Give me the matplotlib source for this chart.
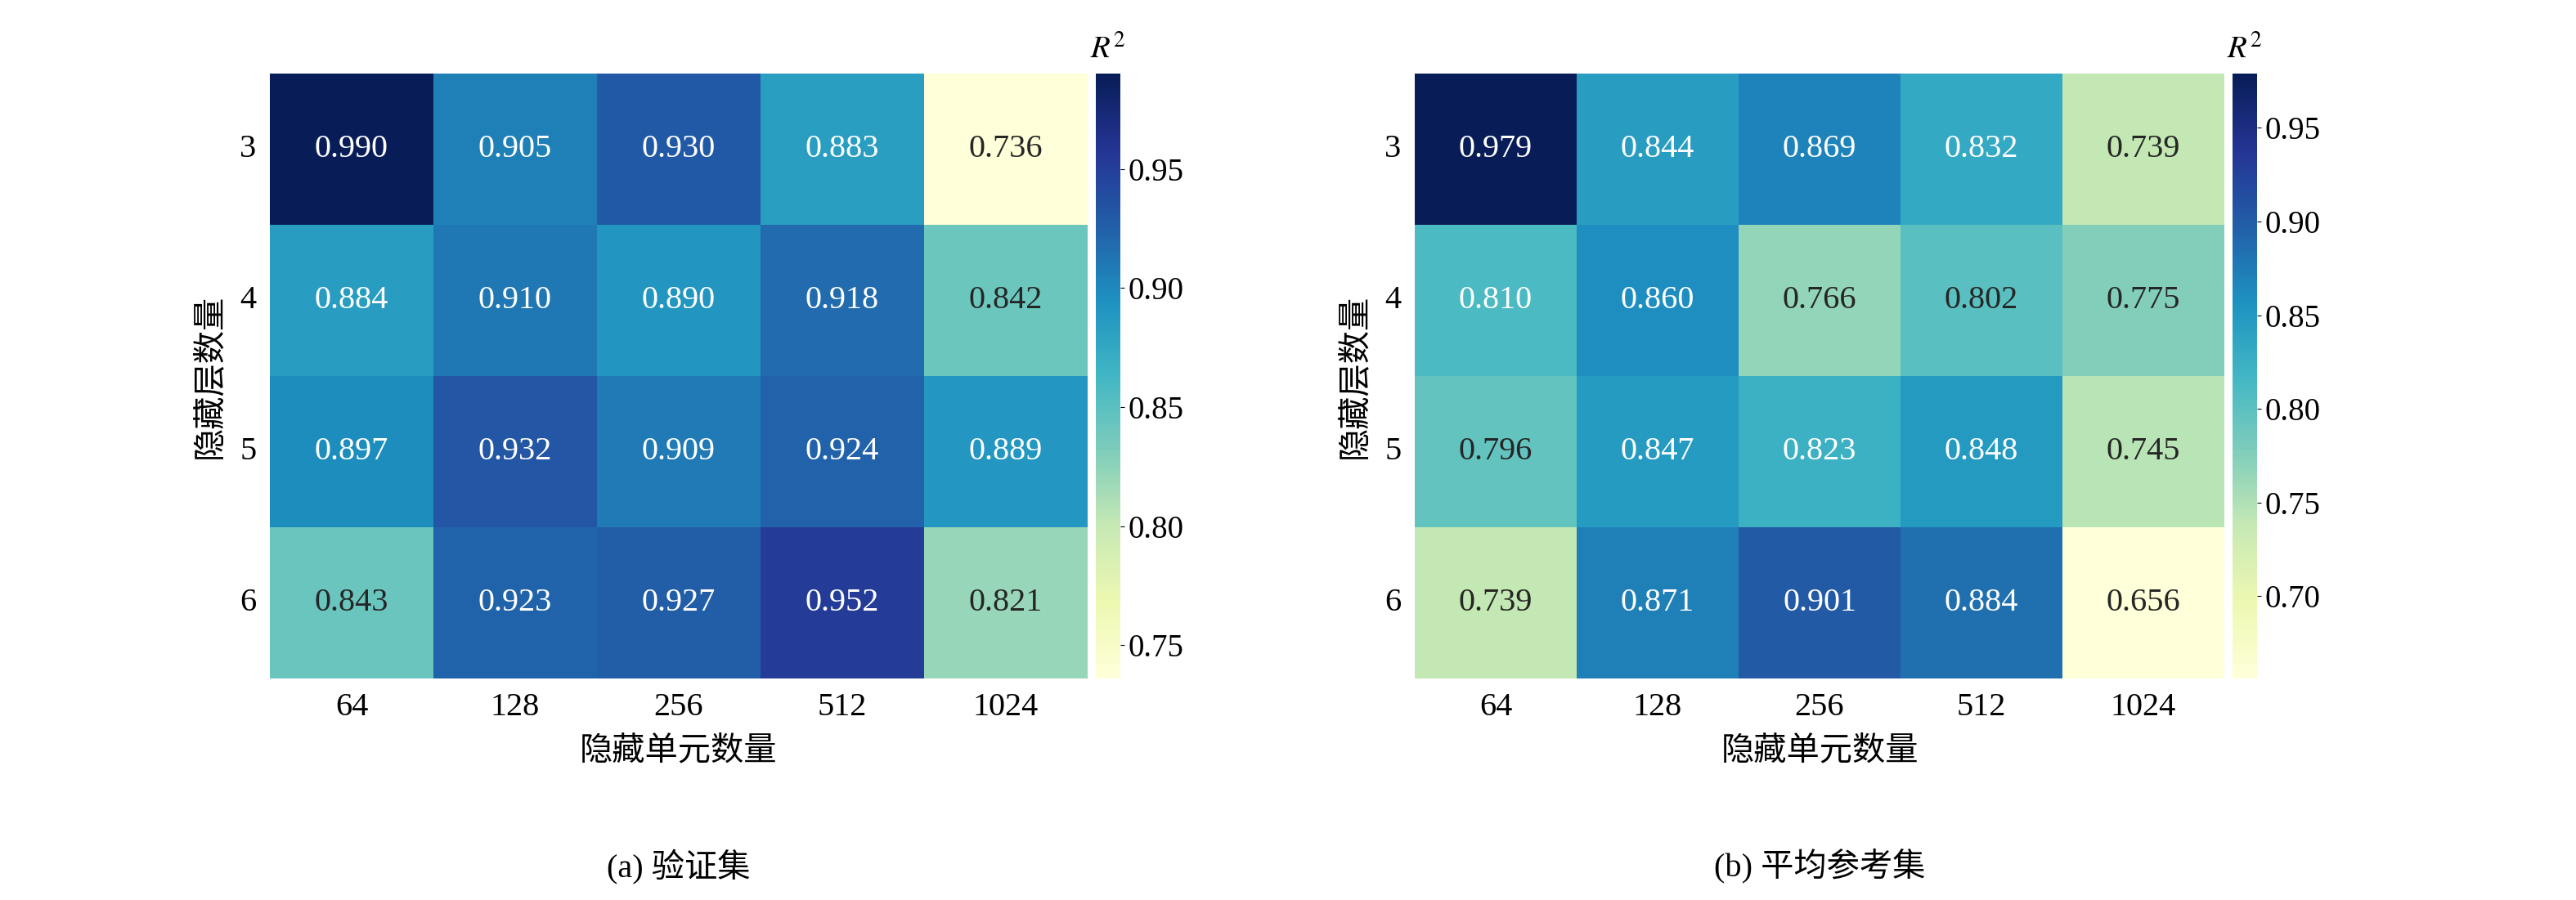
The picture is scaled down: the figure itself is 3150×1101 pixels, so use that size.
import numpy as np
import matplotlib
matplotlib.use("Agg")
import matplotlib.pyplot as plt
import seaborn as sns

plt.rcParams['font.family'] = ['Liberation Serif', 'Noto Sans CJK SC']
plt.rcParams['mathtext.fontset'] = 'stix'

layers = ["3", "4", "5", "6"]
units = ["64", "128", "256", "512", "1024"]
val = [[0.990, 0.905, 0.930, 0.883, 0.736],
       [0.884, 0.910, 0.890, 0.918, 0.842],
       [0.897, 0.932, 0.909, 0.924, 0.889],
       [0.843, 0.923, 0.927, 0.952, 0.821]]
ref = [[0.979, 0.844, 0.869, 0.832, 0.739],
       [0.810, 0.860, 0.766, 0.802, 0.775],
       [0.796, 0.847, 0.823, 0.848, 0.745],
       [0.739, 0.871, 0.901, 0.884, 0.656]]
captions = ["(a) 验证集", "(b) 平均参考集"]
cticks = [[0.75, 0.80, 0.85, 0.90, 0.95], [0.70, 0.75, 0.80, 0.85, 0.90, 0.95]]

fig = plt.figure(figsize=(31.5, 11.01), dpi=100)
W, H = 3150, 1101
boxes = [(330, 1330, 1340, 1370), (1730, 2720, 2730, 2760)]
fs = 29
for i, (data, (x0, x1, c0, c1)) in enumerate(zip([val, ref], boxes)):
    ax = fig.add_axes([x0 / W, 1 - 830 / H, (x1 - x0) / W, 740 / H])
    cax = fig.add_axes([c0 / W, 1 - 830 / H, (c1 - c0) / W, 740 / H])
    arr = np.array(data)
    sns.heatmap(arr, ax=ax, cbar_ax=cax, cmap="YlGnBu", annot=True, fmt=".3f",
                annot_kws={"fontsize": fs}, xticklabels=units, yticklabels=layers,
                vmin=arr.min(), vmax=arr.max())
    ax.tick_params(labelsize=fs, length=0, pad=12)
    ax.set_yticklabels(layers, rotation=0)
    ax.set_xlabel("隐藏单元数量", fontsize=fs, labelpad=12)
    ax.set_ylabel("隐藏层数量", fontsize=fs, labelpad=12)
    cax.set_yticks(cticks[i])
    cax.set_yticklabels([f"{t:.2f}" for t in cticks[i]])
    cax.tick_params(labelsize=fs - 1)
    for s in cax.spines.values():
        s.set_visible(False)
    cax.set_title("$R^2$", fontsize=fs - 1, pad=14)
    fig.text((x0 + x1) / 2 / W, 1 - 1060 / H, captions[i], ha='center', va='center', fontsize=fs)

fig.savefig("out.png", dpi=100)
